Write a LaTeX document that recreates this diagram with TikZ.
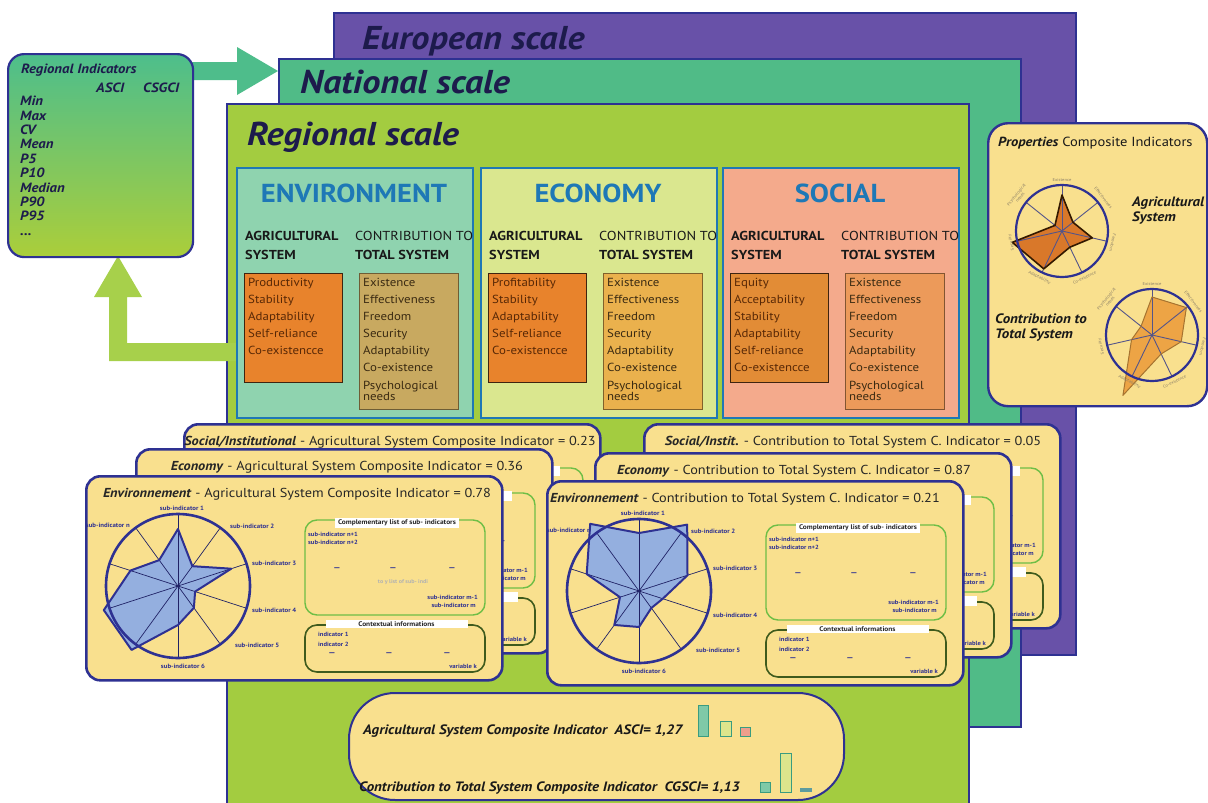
\documentclass[tikz,border=0pt]{standalone}
\usepackage{fontspec}
\setmainfont{PT Sans}[FakeStretch=1.1]
\usetikzlibrary{calc}
\definecolor{navy}{HTML}{2E3192}
\definecolor{eucol}{HTML}{6851A8}
\definecolor{natcol}{HTML}{50BB87}
\definecolor{regcol}{HTML}{A3CC40}
\definecolor{ttl}{HTML}{1D1B4C}
\definecolor{panelblue}{HTML}{1E78B6}
\definecolor{envfill}{HTML}{8FD3AF}
\definecolor{ecofill}{HTML}{DAE78F}
\definecolor{socfill}{HTML}{F4AA8C}
\definecolor{orfill}{HTML}{E8832C}
\definecolor{orsoc}{HTML}{E28C36}
\definecolor{orborder}{HTML}{3E2410}
\definecolor{ortext}{HTML}{582806}
\definecolor{tantext}{HTML}{3A2A12}
\definecolor{tanenv}{HTML}{C8A960}
\definecolor{taneco}{HTML}{EAB14D}
\definecolor{tansoc}{HTML}{EC9A5A}
\definecolor{cardfill}{HTML}{F9E08E}
\definecolor{radfill}{HTML}{94AFDF}
\definecolor{compgreen}{HTML}{6EBE46}
\definecolor{ctxgreen}{HTML}{3F5B1D}
\definecolor{arrteal}{HTML}{4EBD8B}
\definecolor{arrlime}{HTML}{A7D04B}
\definecolor{rigtop}{HTML}{4DBE8C}
\definecolor{rigbot}{HTML}{ABCE3A}
\definecolor{propA}{HTML}{D9782A}
\definecolor{propB}{HTML}{EDA445}
\definecolor{plabel}{HTML}{8C8068}
\definecolor{barteal}{HTML}{7FC9A7}
\definecolor{baryel}{HTML}{DDE58C}
\definecolor{barsal}{HTML}{EE9F8C}
\definecolor{barline}{HTML}{3A9C80}
\definecolor{bargray}{HTML}{5E9C9E}
\tikzset{
  scalebox/.style={draw=navy, line width=1.8pt, anchor=north west, inner sep=0pt},
  scaletitle/.style={anchor=base west, inner sep=0pt, text=ttl, font=\fontsize{33}{33}\selectfont\bfseries\itshape},
  panelbox/.style={draw=panelblue, line width=2.2pt, anchor=north west, inner sep=0pt, minimum width=236pt, minimum height=250pt},
  panelhead/.style={anchor=center, inner sep=0pt, text=panelblue, font=\fontsize{26}{26}\selectfont\bfseries},
  subhead/.style={anchor=base west, inner sep=0pt, text=black!90, font=\fontsize{13}{13}\selectfont},
  orbox/.style={draw=orborder, line width=1.2pt, anchor=north west, inner sep=0pt, minimum width=98pt, minimum height=109pt},
  tanbox/.style={draw=#1!55!black, fill=#1, line width=0.8pt, anchor=north west, inner sep=0pt, minimum width=99pt, minimum height=136pt},
  itemlist/.style={anchor=north west, inner sep=0pt, align=left, font=\fontsize{11.7}{17.1}\selectfont},
  card/.style={draw=navy, line width=2.6pt, fill=cardfill, rounded corners=14pt, anchor=north west, minimum width=416pt, minimum height=204pt, inner sep=0pt},
  cardtitle/.style={anchor=base, inner sep=0pt, text=black!85, font=\fontsize{13}{13}\selectfont},
  spoke/.style={draw=navy!70!black, line width=0.7pt},
  radline/.style={draw=navy, line width=2pt, line join=round},
  radcircle/.style={draw=navy, line width=2.6pt},
  sublab/.style={inner sep=0pt, text=navy, font=\fontsize{6.2}{6.2}\selectfont\bfseries},
  tinytext/.style={inner sep=0pt, text=navy, font=\fontsize{6}{6}\selectfont\bfseries},
  dashtext/.style={inner sep=0pt, text=navy, font=\fontsize{8}{8}\selectfont\bfseries},
  compbox/.style={draw=compgreen, line width=1.4pt, rounded corners=12pt},
  ctxbox/.style={draw=ctxgreen, line width=1.6pt, rounded corners=12pt},
  complabel/.style={fill=white, inner xsep=3pt, inner ysep=2pt, text=black!85, font=\fontsize{6.7}{6.7}\selectfont\bfseries},
  ctxlabel/.style={fill=white, inner sep=2pt, minimum width=142pt, text=black!85, font=\fontsize{6.7}{6.7}\selectfont\bfseries},
  boldital/.style={inner sep=0pt, text=black!90, font=\fontsize{13.6}{15}\selectfont\bfseries\itshape},
  ritext/.style={inner sep=0pt, text=ttl, font=\fontsize{13.4}{14.4}\selectfont\bfseries\itshape},
  pspoke/.style={draw=navy!55!gray, line width=0.9pt},
  pcircle/.style={draw=navy, line width=2.2pt},
  plab/.style={inner sep=0pt, text=plabel, align=center, font=\fontsize{4.2}{4.6}\selectfont},
  bar/.style={draw=barline, line width=1pt},
}
\newcommand\sectorpanel[9]{%
 \begin{scope}[shift={(#2,167)}]
  \node[panelbox, fill=#3] (#1) at (0,0) {};
  \node[panelhead] (#1-h) at (118,26) {#4};
  \node[subhead] (#1-a1) at (9,73) {\textbf{AGRICULTURAL}};
  \node[subhead] (#1-a2) at (9,92) {\textbf{SYSTEM}};
  \node[subhead] (#1-c1) at (119,73) {CONTRIBUTION TO};
  \node[subhead] (#1-c2) at (119,92) {\textbf{TOTAL SYSTEM}};
  \node[orbox, fill=#5] (#1-or) at (8,106) {};
  \node[tanbox=#6] (#1-tan) at (123,106) {};
  \node[itemlist, text=ortext] (#1-ol) at (12,111) {#7};
  \node[itemlist, text=tantext] (#1-tl) at (127,111) {#8};
  #9
 \end{scope}}
% front card: everything
\newcommand\infocard[8]{%
 \begin{scope}[shift={(#2,#3)}]
  \node[card] (#1) at (0,0) {};
  \node[cardtitle] (#1-t) at (#8,22) {\textbf{\itshape #4} - #5};
  \begin{scope}[shift={(93,111)}]
   \coordinate (#1-c) at (0,0);
   \fill[radfill] #6 -- cycle;
   \foreach \a in {90,54,...,-234} \draw[spoke] (#1-c) -- ++(-\a:72);
   \draw[radline] #6 -- cycle;
   \draw[radcircle] (#1-c) circle[radius=72];
  \end{scope}
  \node[sublab] (#1-s1) at (97,33) {sub-indicator 1};
  \node[sublab, anchor=west] (#1-s2) at (145,51) {sub-indicator 2};
  \node[sublab, anchor=west] (#1-s3) at (167,88) {sub-indicator 3};
  \node[sublab, anchor=west] (#1-s4) at (167,135) {sub-indicator 4};
  \node[sublab, anchor=west] (#1-s5) at (150,170) {sub-indicator 5};
  \node[sublab] (#1-s6) at (98,191) {sub-indicator 6};
  \node[sublab, anchor=east] (#1-sn) at (45,50) {sub-indicator n};
  \draw[compbox] (220,45) rectangle (400,140);
  \node[complabel] (#1-cl) at (312,48) {Complementary list of sub- indicators};
  \node[tinytext, anchor=west] (#1-n1) at (223,59) {sub-indicator n+1};
  \node[tinytext, anchor=west] (#1-n2) at (223,67) {sub-indicator n+2};
  \node[dashtext] (#1-d1) at (252,94) {---};
  \node[dashtext] (#1-d2) at (308,94) {---};
  \node[dashtext] (#1-d3) at (367,94) {---};
  \node[tinytext, anchor=east] (#1-m1) at (393,122) {sub-indicator m-1};
  \node[tinytext, anchor=east] (#1-m2) at (391,130) {sub-indicator m};
  \draw[ctxbox] (220,150) rectangle (400,197);
  \node[ctxlabel] (#1-xl) at (311.5,149) {Contextual informations};
  \node[tinytext, anchor=west] (#1-i1) at (233,159) {indicator 1};
  \node[tinytext, anchor=west] (#1-i2) at (233,169) {indicator 2};
  \node[dashtext] (#1-e1) at (247,179) {---};
  \node[dashtext] (#1-e2) at (304,179) {---};
  \node[dashtext] (#1-e3) at (362,179) {---};
  \node[tinytext, anchor=east] (#1-vk) at (392,191) {variable k};
  #7
 \end{scope}}
% back card: only what shows beside the card in front of it
\newcommand\backcard[6]{%
 \begin{scope}[shift={(#2,#3)}]
  \node[card] (#1) at (0,0) {};
  \node[cardtitle] (#1-t) at (#6,22) {\textbf{\itshape #4} - #5};
  \begin{scope}
   \clip (366,27) rectangle (425,210);
   \draw[compbox] (220,45) rectangle (400,140);
   \fill[white] (250,43) rectangle (377,53);
   \node[dashtext] (#1-d3) at (367,94) {---};
   \node[tinytext, anchor=east] (#1-m1) at (393,122) {sub-indicator m-1};
   \node[tinytext, anchor=east] (#1-m2) at (391,130) {sub-indicator m};
   \draw[ctxbox] (220,150) rectangle (400,197);
   \fill[white] (240,144) rectangle (383,154);
   \node[dashtext] (#1-e3) at (362,179) {---};
   \node[tinytext, anchor=east] (#1-vk) at (392,191) {variable k};
  \end{scope}
 \end{scope}}
\begin{document}
\begin{tikzpicture}[x=1pt,y=-1pt]
\useasboundingbox (0,0) rectangle (1208,803);
\fill[white] (0,0) rectangle (1208,803);
% scale boxes
\node[scalebox, fill=eucol, minimum width=742pt, minimum height=642pt] (eu) at (333,12) {};
\node[scaletitle] (eut) at (362,49) {European scale};
\node[scalebox, fill=natcol, minimum width=742pt, minimum height=668pt] (nat) at (278,58) {};
\node[scaletitle] (natt) at (300,93) {National scale};
\node[scalebox, fill=regcol, minimum width=742pt, minimum height=710pt] (reg) at (226,103) {};
\node[scaletitle] (regt) at (247,145) {Regional scale};
% arrows
\coordinate (a1s) at (192,71);
\coordinate (a1e) at (278,71);
\fill[arrteal] ($(a1s)+(0,-9)$) -- (237,62) -- (237,47) -- (a1e) -- (237,95) -- (237,80) -- ($(a1s)+(0,9)$) -- cycle;
\coordinate (a2s) at (236,352);
\coordinate (a2e) at (118,256);
\fill[arrlime] ($(a2s)+(0,-9)$) -- (127,343) -- (127,297) -- (142,297) -- (a2e) -- (94,297) -- (109,297) -- (109,361) -- ($(a2s)+(0,9)$) -- cycle;
% regional indicators box
\node[draw=navy, line width=2.2pt, rounded corners=16pt, top color=rigtop, bottom color=rigbot, anchor=north west, minimum width=185pt, minimum height=203pt, inner sep=0pt] (ri) at (7,53) {};
\node[ritext, anchor=base west] (rit) at (21,73) {Regional Indicators};
\node[ritext, anchor=base west] (ria) at (96,92) {ASCI};
\node[ritext, anchor=base west] (ric) at (143,92) {CSGCI};
\node[ritext, anchor=north west, align=left] (ril) at (20,96) {Min\\Max\\CV\\Mean\\P5\\P10\\Median\\P90\\P95\\...};
% properties panel
\node[draw=navy, line width=2.4pt, rounded corners=20pt, fill=cardfill, anchor=north west, minimum width=219pt, minimum height=283pt, inner sep=0pt] (prop) at (987,122) {};
\node[anchor=base west, inner sep=0pt, font=\fontsize{13.2}{13.2}\selectfont, text=black!90] (propt) at (998,146) {\textbf{\itshape Properties} Composite Indicators};
\node[boldital, anchor=base west, align=left] (propa) at (1132,221) {Agricultural\\System};
\node[boldital, anchor=base west, align=left] (propb) at (995,338) {Contribution to\\Total System};
\begin{scope}[shift={(1062,231)}]
 \coordinate (pa) at (0,0);
 \fill[propA] (-90:36) -- (-38.57:14) -- (12.86:31) -- (64.29:18) -- (115.71:42) -- (167.14:51) -- (218.57:9) -- cycle;
 \foreach \i in {0,...,6} \draw[pspoke] (pa) -- ++({-90+51.43*\i}:46);
 \draw[draw=black!80!orange, line width=1.6pt, line join=round] (-90:36) -- (-38.57:14) -- (12.86:31) -- (64.29:18) -- (115.71:42) -- (167.14:51) -- (218.57:9) -- cycle;
 \draw[pcircle] (pa) circle[radius=46];
 \node[plab] (pa1) at (-90:51) {Existence};
 \node[plab, rotate=-51.4] (pa2) at (-38.57:53) {Effectiveness};
 \node[plab, rotate=-102.9] (pa3) at (12.86:52) {Freedom};
 \node[plab, rotate=25.7] (pa4) at (64.29:52) {Co-existence};
 \node[plab, rotate=-25.7] (pa5) at (115.71:52) {Adaptability};
 \node[plab, rotate=102.9] (pa6) at (167.14:52) {Security};
 \node[plab, rotate=51.4] (pa7) at (218.57:56) {Psychological\\needs};
\end{scope}
\begin{scope}[shift={(1152,335)}]
 \coordinate (pb) at (0,0);
 \fill[propB] (-90:38) -- (-38.57:44) -- (12.86:30) -- (64.29:21) -- (115.71:67) -- (167.14:21) -- (218.57:14) -- cycle;
 \foreach \i in {0,...,6} \draw[pspoke] (pb) -- ++({-90+51.43*\i}:46);
 \draw[draw=propB!70!black, line width=1pt, line join=round] (-90:38) -- (-38.57:44) -- (12.86:30) -- (64.29:21) -- (115.71:67) -- (167.14:21) -- (218.57:14) -- cycle;
 \draw[pcircle] (pb) circle[radius=46];
 \node[plab] (pb1) at (-90:51) {Existence};
 \node[plab, rotate=-51.4] (pb2) at (-38.57:53) {Effectiveness};
 \node[plab, rotate=-102.9] (pb3) at (12.86:52) {Freedom};
 \node[plab, rotate=25.7] (pb4) at (64.29:52) {Co-existence};
 \node[plab, rotate=-25.7] (pb5) at (115.71:52) {Adaptability};
 \node[plab, rotate=102.9] (pb6) at (167.14:52) {Security};
 \node[plab, rotate=51.4] (pb7) at (218.57:56) {Psychological\\needs};
\end{scope}
% sector panels
\sectorpanel{env}{236}{envfill}{ENVIRONMENT}{orfill}{tanenv}{Productivity\\Stability\\Adaptability\\Self-reliance\\Co-existencce}{Existence\\Effectiveness\\Freedom\\Security\\Adaptability\\Co-existence\\Psychological\\[-6pt]needs}{}
\sectorpanel{eco}{480}{ecofill}{ECONOMY}{orfill}{taneco}{Profitability\\Stability\\Adaptability\\Self-reliance\\Co-existencce}{Existence\\Effectiveness\\Freedom\\Security\\Adaptability\\Co-existence\\Psychological\\[-6pt]needs}{}
\sectorpanel{soc}{722}{socfill}{SOCIAL}{orsoc}{tansoc}{Equity\\Acceptability\\Stability\\Adaptability\\Self-reliance\\Co-existencce}{Existence\\Effectiveness\\Freedom\\Security\\Adaptability\\Co-existence\\Psychological\\[-6pt]needs}{}
% cards, left stack
\backcard{lsoc}{183}{423}{Social/Institutional}{Agricultural System Composite Indicator = 0.23}{207}
\backcard{leco}{135}{448}{Economy}{Agricultural System Composite Indicator = 0.36}{212}
\infocard{lenv}{85}{475}{Environnement}{Agricultural System Composite Indicator = 0.78}{(-90:57) -- (-54:24.5) -- (-18:56) -- (18:18) -- (54:27) -- (90:39) -- (126:79) -- (162:78) -- (-162:50) -- (-126:32)}{\node[inner sep=0pt, text=black!30, font=\fontsize{5.5}{6}\selectfont\bfseries] (lenv-g) at (318,107) {to y list of sub- indi};}{212}
% cards, right stack
\backcard{rsoc}{643}{423}{Social/Instit.}{Contribution to Total System C. Indicator = 0.05}{210}
\backcard{reco}{594}{452}{Economy}{Contribution to Total System C. Indicator = 0.87}{200}
\infocard{renv}{546}{480}{Environnement}{Contribution to Total System C. Indicator = 0.21}{(-90:58) -- (-54:82) -- (-18:51) -- (18:25) -- (54:21) -- (90:36) -- (126:42) -- (162:20) -- (-162:55) -- (-126:83)}{}{199}
% bottom summary box
\node[draw=navy, line width=2pt, rounded corners=46pt, fill=cardfill, anchor=north west, minimum width=495pt, minimum height=107pt, inner sep=0pt] (sum) at (348,692) {};
\node[boldital, anchor=base west] (sum1) at (363,734) {Agricultural System Composite Indicator\ \ ASCI= 1,27};
\node[boldital, anchor=base west] (sum2) at (359,791) {Contribution to Total System Composite Indicator\ \ CGSCI= 1,13};
\draw[bar, fill=barteal] (698,705) rectangle (708,736);
\draw[bar, fill=baryel] (720,721) rectangle (731,736);
\draw[bar, fill=barsal] (740,727) rectangle (750,736);
\draw[bar, fill=barteal] (760,782) rectangle (770,792);
\draw[bar, fill=baryel] (780,753) rectangle (791,792);
\fill[bargray] (800,788) rectangle (812,792);
\end{tikzpicture}
\end{document}
